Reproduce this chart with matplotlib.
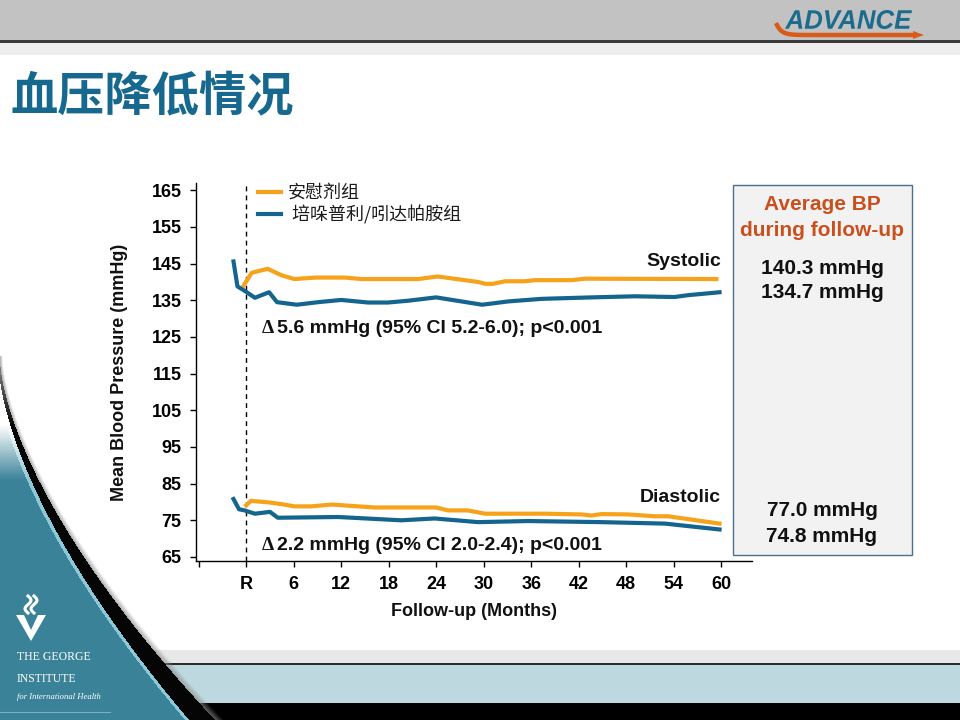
import numpy as np
import matplotlib
matplotlib.use("Agg")
import matplotlib.pyplot as plt
from matplotlib.patches import Rectangle, Polygon, PathPatch
from matplotlib.lines import Line2D
from matplotlib.textpath import TextPath
from matplotlib.font_manager import FontProperties
from matplotlib import transforms

# ---------------- data ----------------
sys_placebo_m = [-0.3, 0.7, 2.7, 4.5, 6.1, 8.7, 12.5, 14.6, 21.7, 24.2, 29.3, 30.2, 31.2, 32.7, 35.2, 36.5, 41.1, 42.8, 59.4]
sys_placebo = [139.1, 142.5, 143.6, 141.8, 140.8, 141.2, 141.2, 140.8, 140.8, 141.5, 140.0, 139.5, 139.5, 140.2, 140.2, 140.5, 140.5, 140.9, 140.8]

sys_active_m = [-1.6, -1.1, -0.2, 1.1, 2.9, 3.9, 6.4, 9.1, 12.0, 15.4, 17.9, 20.5, 24.0, 29.8, 33.1, 37.3, 43.6, 49.1, 54.1, 55.8, 59.8]
sys_active = [145.6, 138.8, 137.6, 135.7, 137.2, 134.5, 133.8, 134.5, 135.1, 134.4, 134.4, 134.9, 135.8, 133.8, 134.7, 135.4, 135.8, 136.1, 135.9, 136.4, 137.2]

dia_placebo_m = [0.0, 0.6, 2.8, 4.5, 6.1, 8.2, 10.8, 16.2, 24.0, 25.5, 28.0, 30.2, 37.8, 42.4, 43.6, 44.9, 48.3, 51.6, 53.3, 59.8]
dia_placebo = [79.1, 80.3, 79.9, 79.4, 78.8, 78.8, 79.3, 78.5, 78.5, 77.7, 77.7, 76.8, 76.8, 76.6, 76.3, 76.7, 76.6, 76.1, 76.1, 74.1]

dia_active_m = [-1.6, -0.9, -0.2, 1.1, 3.0, 4.0, 11.6, 19.6, 23.8, 29.3, 35.6, 44.9, 52.9, 59.8]
dia_active = [80.8, 78.0, 77.7, 76.8, 77.3, 75.7, 75.9, 75.0, 75.5, 74.5, 74.8, 74.5, 74.1, 72.5]

x_ticks = [-6, 0, 6, 12, 18, 24, 30, 36, 42, 48, 54, 60]
x_tick_labels = ["", "R", "6", "12", "18", "24", "30", "36", "42", "48", "54", "60"]
y_ticks = [65, 75, 85, 95, 105, 115, 125, 135, 145, 155, 165]

series_labels = ["安慰剂组", " 培哚普利/吲达帕胺组"]
title_text = "血压降低情况"
avg_title = ["Average BP", "during follow-up"]
avg_sys = ["140.3 mmHg", "134.7 mmHg"]
avg_dia = ["77.0 mmHg", "74.8 mmHg"]
delta_sys = "5.6 mmHg (95% CI 5.2-6.0); p<0.001"
delta_dia = "2.2 mmHg (95% CI 2.0-2.4); p<0.001"

# ---------------- style ----------------
ORANGE = "#F7A21B"
BLUE = "#13658F"
TITLE_BLUE = "#16688F"
W, H = 960, 720

plt.rcParams["font.family"] = ["Liberation Sans", "Noto Sans CJK SC", "DejaVu Sans"]
plt.rcParams["font.weight"] = "bold"

fig = plt.figure(figsize=(9.6, 7.2), dpi=100, facecolor="white")


def P(x, y):
    return (x / W, 1 - y / H)


def frect(x0, y0, x1, y1, color, z=0, **kw):
    fig.patches.append(Rectangle(P(x0, y1), (x1 - x0) / W, (y1 - y0) / H,
                                 transform=fig.transFigure, facecolor=color,
                                 edgecolor=kw.pop("ec", "none"), zorder=z, **kw))

# header
frect(0, 0, 960, 40, "#C2C2C2")
frect(0, 40, 960, 43, "#3A3A3A")
frect(0, 43, 960, 55, "#EDEDED")

# ADVANCE logo (text path scaled to a condensed shape)
fp = FontProperties(family="Liberation Sans", weight="bold", style="italic")
tp = TextPath((0, 0), "ADVANCE", size=100, prop=fp)
bb = tp.get_extents()
tr = (transforms.Affine2D().translate(-bb.x0, -bb.y0)
      .scale(127 / bb.width / W, 19 / bb.height / H)
      .translate(785 / W, 1 - 29 / H) + fig.transFigure)
fig.patches.append(PathPatch(tp, transform=tr, facecolor="#1C6A8C",
                             edgecolor="none", zorder=1))
sw_x = np.linspace(776, 915, 80)
sw_y = 35 - 12 * np.exp(-(sw_x - 776) / 5.0)
fig.add_artist(Line2D(sw_x / W, 1 - sw_y / H, color="#D95B1A", lw=3.2,
                      transform=fig.transFigure, solid_capstyle="butt"))
fig.patches.append(Polygon([P(913, 31), P(924, 35), P(913, 39)], closed=True,
                           transform=fig.transFigure, facecolor="#D95B1A",
                           edgecolor="none"))

# title
fig.text(*P(11, 97), title_text, ha="left", va="center", fontsize=34,
         fontweight="bold", color=TITLE_BLUE,
         family=["Noto Sans CJK SC", "DejaVu Sans"])

# bottom bands
frect(0, 650, 960, 663, "#E8E8E8")
frect(0, 663, 960, 665, "#2B2B2B")
frect(0, 665, 960, 703, "#BDD8DF")
frect(0, 703, 960, 720, "#000000")

# left decorative curve, rendered as a pixel image
Y0 = 350
rows = np.arange(Y0, 720) + 0.5
cols = np.arange(0, 240) + 0.5
YY, XX = np.meshgrid(rows, cols, indexing="ij")
tt = np.clip((YY - 360) / 360, 0, 1)
cxx = 215 * tt ** 1.56
bw = 2 + 24 * tt ** 1.3
d = XX - cxx
img = np.zeros(YY.shape + (4,))
ramp = np.clip((YY - 425) / 55, 0, 1)


def paint(mask, rgb, alpha):
    c = np.array(matplotlib.colors.to_rgb(rgb))
    a = np.broadcast_to(alpha, YY.shape)
    img[mask, :3] = c
    img[mask, 3] = a[mask]

paint(d <= -bw - 4, "#3A8298", ramp)
paint((d > -bw - 4) & (d <= -bw), "#8CC8D8", ramp)
valid = YY >= 356
paint((d > -bw) & (d <= 0) & valid, "#050505", np.clip(0.45 + tt * 3, 0, 1))
sh_w = 3 + 6 * tt
paint((d > 0) & (d <= sh_w) & valid, "#8A8A8A",
      0.7 * np.clip(1 - d / sh_w, 0, 1))
fig.figimage(img, xo=0, yo=0, origin="upper", zorder=1)

# George Institute logo
chev = [P(16, 615), P(24, 615), P(31, 630), P(38, 615), P(46, 615), P(31, 641)]
fig.patches.append(Polygon(chev, closed=True, transform=fig.transFigure,
                           facecolor="white", edgecolor="none", zorder=2))
for dx in (0, 6):
    fy = np.linspace(596, 613, 20)
    fx = 28 + dx + 3 * np.sin((fy - 596) / 17 * 2 * np.pi)
    fig.add_artist(Line2D(fx / W, 1 - fy / H, color="white", lw=2.2,
                          transform=fig.transFigure, zorder=2))
fig.text(*P(17, 657), "THE GEORGE", ha="left", va="center", fontsize=8.5,
         fontweight="normal", color="white", family=["Liberation Serif"], zorder=3)
fig.text(*P(17, 679), "INSTITUTE", ha="left", va="center", fontsize=8.5,
         fontweight="normal", color="white", family=["Liberation Serif"], zorder=3)
fig.text(*P(17, 697), "for International Health", ha="left", va="center",
         fontsize=6.2, fontweight="normal", fontstyle="italic", color="white",
         family=["Liberation Serif"], zorder=3)
fig.add_artist(Line2D([0, 110 / W], [1 - 712 / H] * 2, color="#7FB0C0", lw=0.8,
                      transform=fig.transFigure, zorder=3))

# ---------------- axes ----------------
ax_left, ax_right, ax_top, ax_bot = 195.5, 752, 183, 561
ax = fig.add_axes([ax_left / W, 1 - ax_bot / H, (ax_right - ax_left) / W,
                   (ax_bot - ax_top) / H])
ax.set_facecolor("none")
ax.set_xlim(-6.4, 63.9)
ax.set_ylim(63.9, 167)
for s in ("top", "right"):
    ax.spines[s].set_visible(False)
for s in ("left", "bottom"):
    ax.spines[s].set_linewidth(1.0)
    ax.spines[s].set_color("black")

ax.set_xticks(x_ticks)
ax.set_xticklabels(x_tick_labels)
ax.set_yticks(y_ticks)
ax.tick_params(axis="both", direction="out", length=4, width=1,
               labelsize=13, colors="black")
ax.tick_params(axis="y", pad=6)
ax.tick_params(axis="x", pad=7)
for lab in ax.get_xticklabels() + ax.get_yticklabels():
    lab.set_fontweight("bold")

ax.axvline(0, color="black", lw=1.0, ls=(0, (3.5, 3)), zorder=1)

lo, = ax.plot(sys_placebo_m, sys_placebo, color=ORANGE, lw=3, zorder=3,
              solid_joinstyle="round")
lb, = ax.plot(sys_active_m, sys_active, color=BLUE, lw=3, zorder=3,
              solid_joinstyle="round")
ax.plot(dia_placebo_m, dia_placebo, color=ORANGE, lw=3, zorder=3,
        solid_joinstyle="round")
ax.plot(dia_active_m, dia_active, color=BLUE, lw=3, zorder=3,
        solid_joinstyle="round")

leg = ax.legend([lo, lb], series_labels, loc="upper left",
                bbox_to_anchor=P(258, 184), bbox_transform=fig.transFigure,
                frameon=False, handlelength=1.3, handletextpad=0.35,
                labelspacing=0.2, borderpad=0, borderaxespad=0,
                prop=dict(family=["Noto Sans CJK SC", "DejaVu Sans"], size=13,
                          weight="medium"),
                labelcolor="#1A1A1A")

ax.text(60, 145.5, "Systolic", ha="right", va="center", fontsize=14,
        fontweight="bold", color="#111111")
ax.text(60, 81.3, "Diastolic", ha="right", va="center", fontsize=14,
        fontweight="bold", color="#111111")

for yv, txt in ((127.4, delta_sys), (68.2, delta_dia)):
    ax.text(2.0, yv, "Δ", ha="left", va="center", fontsize=14,
            fontweight="bold", family=["Liberation Serif"], color="#111111")
    off = transforms.offset_copy(ax.transData, fig=fig, x=11, y=0,
                                 units="points")
    ax.text(2.0, yv, txt, ha="left", va="center", fontsize=14,
            fontweight="bold", color="#111111", transform=off)

fig.text(*P(119, 372), "Mean Blood Pressure (mmHg)", rotation=90, ha="center",
         va="center", fontsize=13, fontweight="bold", color="#111111")
fig.text(*P(474, 612), "Follow-up (Months)", ha="center", va="center",
         fontsize=13, fontweight="bold", color="#111111")

# ---------------- average BP box ----------------
frect(733, 185, 912, 555, "#F2F2F2", z=2, ec="#4A6F8F", lw=1.0)
cxb = 822
fig.text(*P(cxb, 205), avg_title[0], ha="center", va="center", fontsize=15,
         fontweight="bold", color="#C9501C", zorder=3)
fig.text(*P(cxb, 230), avg_title[1], ha="center", va="center", fontsize=15,
         fontweight="bold", color="#C9501C", zorder=3)
for yv, txt in ((269, avg_sys[0]), (293, avg_sys[1]), (511, avg_dia[0]),
                (536, avg_dia[1])):
    fig.text(*P(cxb, yv), txt, ha="center", va="center", fontsize=15,
             fontweight="bold", color="#111111", zorder=3)

fig.savefig("out.png", dpi=100, facecolor="white")
